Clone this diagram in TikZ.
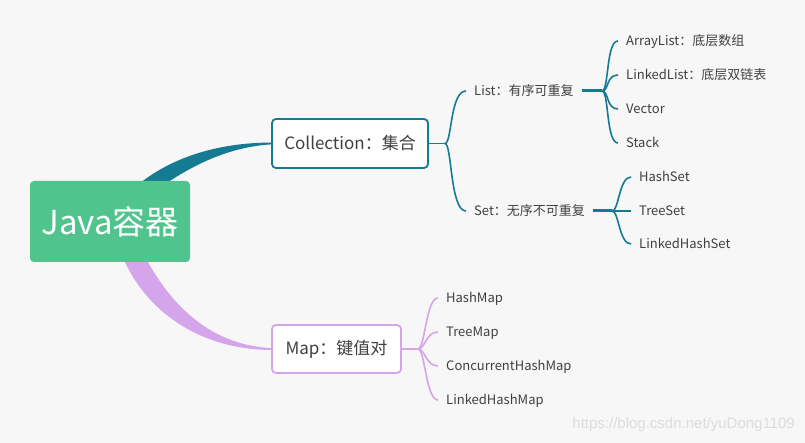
\documentclass[tikz,border=0pt]{standalone}
\usepackage{fontspec}
\setmainfont{Noto Sans CJK SC}
\newfontfamily\wmfont{Liberation Sans}
\usetikzlibrary{calc}
\definecolor{bgc}{HTML}{F7F7F7}
\definecolor{tealc}{HTML}{147B93}
\definecolor{purc}{HTML}{D4A5EA}
\definecolor{greenc}{HTML}{50C48C}
\definecolor{txtc}{HTML}{404040}
\definecolor{wmc}{HTML}{DCDCDC}
\pgfdeclarelayer{back}
\pgfdeclarelayer{bg}
\pgfsetlayers{back,bg,main}
\tikzset{
  rootbox/.style={fill=greenc, rounded corners=4pt, minimum width=160pt, minimum height=81pt, inner sep=0pt, text=white, font=\fontsize{33}{36}\selectfont},
  subbox/.style={fill=white, draw=#1, line width=1.8pt, rounded corners=4pt, inner sep=0pt, text=txtc, font=\fontsize{17}{20}\selectfont},
  midtext/.style={anchor=west, inner xsep=8pt, inner ysep=0pt, text height=12.5pt, text depth=3pt, text=txtc, font=\fontsize{13}{15}\selectfont},
  leaf/.style={anchor=west, inner xsep=8pt, inner ysep=0pt, text height=12.5pt, text depth=3pt, text=txtc, font=\fontsize{13}{15}\selectfont},
  thinline/.style={draw=#1, line width=1.6pt},
  thickline/.style={draw=#1, line width=3pt}
}
\begin{document}
\begin{tikzpicture}[x=1pt,y=-1pt]
\begin{pgfonlayer}{back}
\fill[bgc] (0,0) rectangle (805,443);
\end{pgfonlayer}
\useasboundingbox (0,0) rectangle (805,443);

% main nodes
\node[rootbox] (root) at (110,221.5) {Java容器};
\node[subbox=tealc, minimum width=156pt, minimum height=49pt] (coll) at (350,143.5) {Collection：集合};
\node[subbox=purc, minimum width=129pt, minimum height=48pt] (map) at (336.5,349) {Map：键值对};

% second level
\node[midtext] (list) at (466,91) {List：有序可重复};
\node[midtext] (set) at (466,211) {Set：无序不可重复};

\coordinate (cj) at (445,143.5);
\coordinate (lj) at (602,91);
\coordinate (sj) at (612,211);
\coordinate (mj) at (418,349);

% leaves
\node[leaf] (al) at (618,41) {ArrayList：底层数组};
\node[leaf] (ll) at (618,75) {LinkedList：底层双链表};
\node[leaf] (vec) at (618,109) {Vector};
\node[leaf] (stk) at (618,143) {Stack};
\node[leaf] (hs) at (631,177) {HashSet};
\node[leaf] (ts) at (631,211) {TreeSet};
\node[leaf] (lhs) at (631,244) {LinkedHashSet};
\node[leaf] (hm) at (438,298) {HashMap};
\node[leaf] (tm) at (438,332) {TreeMap};
\node[leaf] (chm) at (438,366) {ConcurrentHashMap};
\node[leaf] (lhm) at (438,400) {LinkedHashMap};

\node[text=wmc, font=\wmfont\fontsize{15}{17}\selectfont, anchor=east, inner sep=0pt] (wm) at (795,425) {https://blog.csdn.net/yuDong1109};

\begin{pgfonlayer}{bg}
% tapered root connectors
\fill[tealc] ($(root.north)+(33,6)$) -- ($(root.north)+(33,0)$)
  .. controls +(32,-24) and +(-52,0) .. ($(coll.west)+(0,-0.9)$)
  -- ($(coll.west)+(0,0.9)$)
  .. controls +(-42,2.5) and +(25,-16) .. ($(root.north)+(60,0)$)
  -- ($(root.north)+(60,6)$) -- cycle;
\fill[purc] ($(root.south)+(15,-6)$) -- ($(root.south)+(15,0)$)
  .. controls +(25,53) and +(-67,0) .. ($(map.west)+(0,0.9)$)
  -- ($(map.west)+(0,-0.9)$)
  .. controls +(-57,-3) and +(27,48) .. ($(root.south)+(38,0)$)
  -- ($(root.south)+(38,-6)$) -- cycle;
\end{pgfonlayer}

% collection brace
\draw[thinline=tealc] (coll.east) -- (cj);
\draw[thinline=tealc] (cj) .. controls +(7,0) and +(-16,0) .. (list.west);
\draw[thinline=tealc] (cj) .. controls +(7,0) and +(-16,0) .. (set.west);

% list
\draw[thickline=tealc] (list.east) -- (lj);
\foreach \n in {al,ll,vec,stk}
  \draw[thinline=tealc] (lj) .. controls +(7,0) and +(-12,0) .. (\n.west);
% set
\draw[thickline=tealc] (set.east) -- (sj);
\foreach \n in {hs,ts,lhs}
  \draw[thinline=tealc] (sj) .. controls +(7,0) and +(-12,0) .. (\n.west);
% map
\draw[thinline=purc] (map.east) -- (mj);
\foreach \n in {hm,tm,chm,lhm}
  \draw[thinline=purc] (mj) .. controls +(7,0) and +(-12,0) .. (\n.west);
\end{tikzpicture}
\end{document}
